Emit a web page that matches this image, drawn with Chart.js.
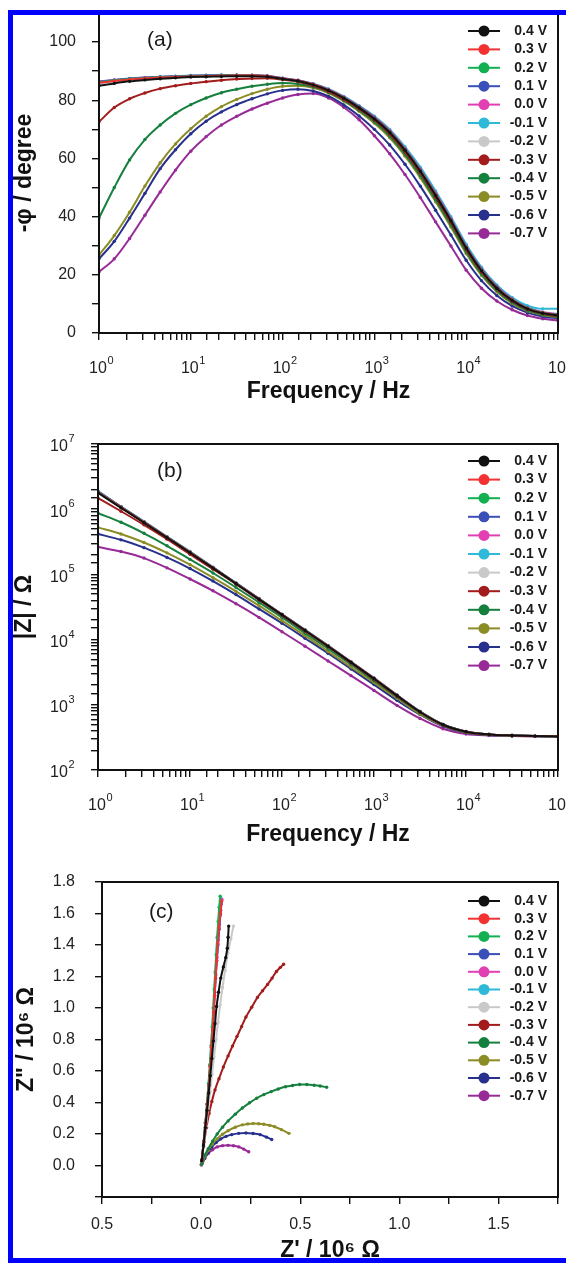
<!DOCTYPE html>
<html>
<head>
<meta charset="utf-8">
<script src="https://cdn.jsdelivr.net/npm/chart.js@4.4.1/dist/chart.umd.min.js"></script>
<style>
  html, body { margin: 0; padding: 0; background: #fff; }
  body { width: 566px; height: 1264px; position: relative; overflow: hidden; }
  canvas { position: absolute; left: 0; }
  #frame { position: absolute; left: 8px; top: 10px; width: 600px; height: 1253px;
           border: 5px solid #0000ff; box-sizing: border-box; z-index: 5; pointer-events: none; }
</style>
</head>
<body>
<div id="frame"></div>
<canvas id="chartA" style="top:0px" width="566" height="410"></canvas>
<canvas id="chartB" style="top:420px" width="566" height="430"></canvas>
<canvas id="chartC" style="top:860px" width="566" height="404"></canvas>
<script>
// Series labels and colours (same in all three panels)
const voltages = ['0.4 V', '0.3 V', '0.2 V', '0.1 V', '0.0 V', '-0.1 V', '-0.2 V', '-0.3 V', '-0.4 V', '-0.5 V', '-0.6 V', '-0.7 V'];
const colors = ['#111111', '#f23232', '#12b050', '#3a4fb8', '#e23fb2', '#2fb9d8', '#c9c9c9', '#a31c1c', '#15803e', '#8c8c26', '#27308c', '#972a97'];

// Exponents written on the log axes (10^n)
const decadeExp = ['0', '1', '2', '3', '4', '5', '6', '7'];

// (a) phase angle, Hz
const freqA = [1, 1.468, 2.154, 3.162, 4.642, 6.813, 10, 14.68, 21.54, 31.62, 46.42, 68.13,
  100, 146.8, 215.4, 316.2, 464.2, 681.3, 1000, 1468, 2154, 3162, 4642, 6813,
  10000, 14678, 21544, 31623, 46416, 68129, 100000];

// -phi / degree, one row per voltage
const phaseDeg = [
  [85.0, 85.8, 86.5, 87.0, 87.4, 87.7, 88.0, 88.1, 88.2, 88.3, 88.3, 88.1, 87.3, 86.6, 85.3, 83.4, 80.7, 77.4, 73.6, 68.9, 62.8, 55.6, 47.3, 38.6, 29.2, 21.4, 15.4, 11.2, 8.3, 6.8, 6.0],
  [86.0, 86.6, 87.1, 87.5, 87.8, 88.0, 88.2, 88.3, 88.4, 88.5, 88.5, 88.3, 87.4, 86.7, 85.4, 83.5, 80.8, 77.5, 73.7, 69.0, 62.9, 55.7, 47.5, 38.7, 29.3, 21.5, 15.5, 11.3, 8.4, 6.9, 6.1],
  [86.2, 86.8, 87.3, 87.6, 87.9, 88.1, 88.3, 88.4, 88.5, 88.5, 88.5, 88.3, 87.4, 86.7, 85.4, 83.5, 80.9, 77.6, 73.8, 69.1, 63.0, 55.8, 47.6, 38.8, 29.4, 21.6, 15.6, 11.4, 8.5, 6.9, 6.2],
  [86.3, 86.9, 87.4, 87.7, 88.0, 88.2, 88.4, 88.5, 88.6, 88.6, 88.5, 88.3, 87.5, 86.8, 85.5, 83.6, 81.0, 77.8, 74.0, 69.3, 63.2, 56.0, 47.8, 39.0, 29.6, 21.8, 15.8, 11.5, 8.6, 7.0, 6.3],
  [86.4, 87.0, 87.4, 87.8, 88.0, 88.2, 88.4, 88.5, 88.6, 88.6, 88.6, 88.4, 87.6, 86.9, 85.6, 83.7, 81.1, 77.9, 74.2, 69.5, 63.4, 56.3, 48.1, 39.3, 29.8, 22.0, 16.0, 11.7, 8.7, 7.1, 6.4],
  [86.5, 87.0, 87.5, 87.8, 88.1, 88.3, 88.5, 88.6, 88.7, 88.7, 88.6, 88.4, 87.6, 86.9, 85.7, 83.9, 81.3, 78.1, 74.5, 70.0, 64.0, 57.0, 48.8, 40.0, 30.5, 22.6, 16.5, 12.2, 9.4, 8.3, 8.3],
  [85.8, 86.5, 87.1, 87.5, 87.8, 88.0, 88.2, 88.3, 88.4, 88.4, 88.4, 88.2, 87.5, 86.8, 85.6, 83.8, 81.2, 78.0, 74.3, 69.7, 63.6, 56.5, 48.3, 39.5, 30.0, 22.2, 16.2, 11.9, 8.9, 7.3, 6.6],
  [72.6, 77.5, 80.5, 82.5, 84.0, 85.0, 85.8, 86.4, 86.9, 87.3, 87.5, 87.6, 87.1, 86.4, 85.0, 83.0, 80.3, 77.0, 73.2, 68.4, 62.2, 55.0, 46.7, 38.0, 28.7, 21.0, 15.1, 10.9, 8.1, 6.6, 5.8],
  [39.5, 50.0, 59.5, 66.5, 71.5, 75.5, 78.5, 80.8, 82.6, 83.8, 84.8, 85.5, 85.9, 85.6, 84.6, 82.8, 80.0, 76.6, 72.6, 67.7, 61.4, 54.1, 45.8, 37.1, 27.9, 20.3, 14.6, 10.5, 7.8, 6.4, 5.6],
  [26.8, 33.5, 41.5, 50.5, 58.5, 65.0, 70.2, 74.5, 77.8, 80.3, 82.3, 83.8, 84.8, 85.0, 84.3, 82.5, 79.7, 76.2, 72.1, 67.1, 60.8, 53.4, 45.1, 36.4, 27.3, 19.8, 14.2, 10.2, 7.6, 6.2, 5.4],
  [25.5, 31.5, 39.5, 48.0, 56.5, 63.0, 68.5, 72.8, 76.0, 78.5, 80.5, 82.2, 83.4, 83.8, 83.2, 81.4, 78.4, 74.6, 70.0, 64.6, 58.0, 50.5, 42.2, 33.7, 25.0, 18.0, 12.9, 9.3, 7.0, 5.7, 5.0],
  [21.0, 25.5, 32.5, 40.5, 48.5, 56.0, 62.5, 67.5, 71.5, 74.5, 77.0, 79.0, 80.8, 82.0, 82.3, 80.8, 77.6, 73.3, 67.8, 61.6, 54.5, 46.6, 38.2, 29.9, 21.6, 15.4, 11.0, 8.0, 6.0, 4.9, 4.3]
];

// (b) impedance modulus, Hz
const freqB = [1, 1.778, 3.162, 5.623, 10, 17.78, 31.62, 56.23, 100, 177.8, 316.2, 562.3,
  1000, 1778, 3162, 5623, 10000, 17783, 31623, 56234, 100000];

// |Z| / ohm, one row per voltage
const modulus = [
  [1.78e6, 1.05e6, 6.2e5, 3.65e5, 2.15e5, 1.25e5, 7.2e4, 4.15e4, 2.4e4, 1.38e4, 7.9e3, 4.47e3, 2.51e3, 1.38e3, 776, 495, 386, 350, 338, 331, 327],
  [1.82e6, 1.07e6, 6.3e5, 3.7e5, 2.18e5, 1.26e5, 7.25e4, 4.18e4, 2.41e4, 1.39e4, 7.95e3, 4.5e3, 2.53e3, 1.39e3, 780, 497, 387, 350, 338, 331, 327],
  [1.84e6, 1.08e6, 6.35e5, 3.72e5, 2.19e5, 1.27e5, 7.3e4, 4.2e4, 2.42e4, 1.4e4, 8.0e3, 4.52e3, 2.54e3, 1.4e3, 785, 498, 388, 351, 339, 331, 327],
  [1.86e6, 1.09e6, 6.4e5, 3.74e5, 2.2e5, 1.27e5, 7.33e4, 4.22e4, 2.43e4, 1.4e4, 8.05e3, 4.54e3, 2.55e3, 1.4e3, 788, 499, 388, 351, 339, 331, 327],
  [1.87e6, 1.09e6, 6.42e5, 3.76e5, 2.21e5, 1.28e5, 7.36e4, 4.24e4, 2.44e4, 1.41e4, 8.08e3, 4.56e3, 2.56e3, 1.41e3, 790, 500, 389, 351, 339, 331, 327],
  [1.9e6, 1.1e6, 6.5e5, 3.8e5, 2.24e5, 1.29e5, 7.4e4, 4.27e4, 2.45e4, 1.41e4, 8.1e3, 4.57e3, 2.57e3, 1.41e3, 794, 501, 389, 351, 339, 331, 327],
  [1.88e6, 1.09e6, 6.4e5, 3.75e5, 2.2e5, 1.27e5, 7.3e4, 4.2e4, 2.42e4, 1.39e4, 8.0e3, 4.5e3, 2.54e3, 1.4e3, 789, 500, 389, 351, 339, 331, 327],
  [1.48e6, 9.3e5, 5.75e5, 3.47e5, 2.04e5, 1.2e5, 7.08e4, 4.07e4, 2.34e4, 1.35e4, 7.76e3, 4.37e3, 2.45e3, 1.35e3, 776, 490, 385, 351, 339, 331, 327],
  [8.7e5, 6.3e5, 4.27e5, 2.75e5, 1.7e5, 1.05e5, 6.3e4, 3.72e4, 2.19e4, 1.26e4, 7.24e3, 4.17e3, 2.34e3, 1.32e3, 759, 490, 380, 347, 335, 331, 327],
  [5.25e5, 4.17e5, 3.09e5, 2.14e5, 1.41e5, 8.9e4, 5.5e4, 3.31e4, 1.95e4, 1.15e4, 6.6e3, 3.8e3, 2.19e3, 1.26e3, 724, 479, 376, 347, 335, 331, 327],
  [4.17e5, 3.39e5, 2.57e5, 1.82e5, 1.23e5, 7.9e4, 4.9e4, 2.95e4, 1.78e4, 1.05e4, 6.17e3, 3.55e3, 2.04e3, 1.17e3, 708, 468, 372, 343, 335, 331, 327],
  [2.63e5, 2.24e5, 1.78e5, 1.26e5, 8.5e4, 5.6e4, 3.55e4, 2.19e4, 1.32e4, 7.9e3, 4.7e3, 2.8e3, 1.66e3, 980, 617, 430, 357, 338, 331, 327, 324]
];

// (c) Nyquist plot, Z' and Z'' in 10^6 ohm, one row per voltage
const zReal = [
  [0.003, 0.012, 0.021, 0.030, 0.038, 0.046, 0.054, 0.062, 0.070, 0.078, 0.088, 0.099, 0.112, 0.124, 0.132, 0.136, 0.139],
  [0.003, 0.013, 0.022, 0.031, 0.039, 0.046, 0.052, 0.058, 0.063, 0.068, 0.073, 0.078, 0.084, 0.090, 0.097, 0.104],
  [0.003, 0.012, 0.021, 0.029, 0.037, 0.044, 0.050, 0.056, 0.061, 0.066, 0.071, 0.076, 0.081, 0.086, 0.091, 0.096],
  [0.003, 0.013, 0.022, 0.031, 0.039, 0.046, 0.052, 0.058, 0.063, 0.068, 0.073, 0.079, 0.085, 0.091, 0.097, 0.101],
  [0.003, 0.013, 0.022, 0.031, 0.039, 0.046, 0.052, 0.058, 0.064, 0.069, 0.074, 0.080, 0.086, 0.092, 0.099, 0.105],
  [0.003, 0.013, 0.022, 0.030, 0.038, 0.045, 0.051, 0.057, 0.062, 0.067, 0.072, 0.077, 0.082, 0.088, 0.094, 0.099],
  [0.003, 0.014, 0.025, 0.035, 0.045, 0.055, 0.065, 0.075, 0.085, 0.096, 0.108, 0.121, 0.135, 0.150, 0.163],
  [0.004, 0.012, 0.027, 0.040, 0.054, 0.070, 0.090, 0.112, 0.136, 0.158, 0.181, 0.204, 0.226, 0.255, 0.284, 0.310, 0.335, 0.358, 0.380, 0.400, 0.416],
  [0.002, 0.005, 0.018, 0.036, 0.058, 0.081, 0.108, 0.136, 0.172, 0.208, 0.244, 0.280, 0.316, 0.353, 0.389, 0.425, 0.461, 0.497, 0.533, 0.570, 0.600, 0.633],
  [0.002, 0.009, 0.020, 0.036, 0.056, 0.081, 0.108, 0.136, 0.172, 0.208, 0.235, 0.262, 0.290, 0.316, 0.345, 0.371, 0.405, 0.443],
  [0.002, 0.018, 0.035, 0.054, 0.076, 0.099, 0.126, 0.154, 0.190, 0.226, 0.262, 0.298, 0.330, 0.356],
  [0.001, 0.005, 0.018, 0.036, 0.058, 0.081, 0.108, 0.136, 0.163, 0.190, 0.215, 0.240]
];
const zImag = [
  [0.03, 0.13, 0.24, 0.35, 0.46, 0.57, 0.68, 0.79, 0.90, 1.01, 1.10, 1.19, 1.26, 1.32, 1.38, 1.45, 1.52],
  [0.03, 0.15, 0.27, 0.39, 0.51, 0.63, 0.75, 0.86, 0.97, 1.08, 1.19, 1.30, 1.41, 1.51, 1.60, 1.68],
  [0.03, 0.15, 0.27, 0.39, 0.52, 0.64, 0.76, 0.88, 1.00, 1.12, 1.23, 1.34, 1.45, 1.55, 1.64, 1.71],
  [0.03, 0.15, 0.27, 0.39, 0.51, 0.63, 0.74, 0.86, 0.97, 1.08, 1.19, 1.30, 1.40, 1.50, 1.59, 1.66],
  [0.03, 0.15, 0.27, 0.39, 0.51, 0.63, 0.75, 0.87, 0.98, 1.10, 1.21, 1.32, 1.43, 1.53, 1.62, 1.69],
  [0.03, 0.15, 0.27, 0.39, 0.52, 0.64, 0.76, 0.88, 1.00, 1.11, 1.22, 1.33, 1.44, 1.54, 1.63, 1.70],
  [0.03, 0.14, 0.25, 0.36, 0.47, 0.58, 0.69, 0.80, 0.91, 1.02, 1.13, 1.24, 1.35, 1.44, 1.52],
  [0.04, 0.12, 0.242, 0.33, 0.407, 0.48, 0.551, 0.625, 0.696, 0.758, 0.82, 0.882, 0.943, 1.005, 1.067, 1.11, 1.15, 1.19, 1.232, 1.258, 1.278],
  [0.01, 0.025, 0.065, 0.107, 0.155, 0.200, 0.243, 0.283, 0.326, 0.365, 0.398, 0.427, 0.450, 0.469, 0.486, 0.500, 0.508, 0.514, 0.514, 0.510, 0.505, 0.497],
  [0.008, 0.025, 0.060, 0.097, 0.135, 0.169, 0.198, 0.221, 0.243, 0.258, 0.264, 0.266, 0.265, 0.262, 0.255, 0.246, 0.228, 0.204],
  [0.008, 0.045, 0.082, 0.118, 0.146, 0.169, 0.185, 0.196, 0.204, 0.206, 0.203, 0.196, 0.180, 0.165],
  [0.003, 0.014, 0.048, 0.076, 0.100, 0.118, 0.126, 0.128, 0.125, 0.118, 0.104, 0.087]
];

const FONT = "'Liberation Sans', Arial, Helvetica, sans-serif";
Chart.defaults.font.family = FONT;
Chart.defaults.color = '#222';

function makeSets(xs, yRows, smooth) {
  const perRow = Array.isArray(xs[0]);
  return yRows.map((row, i) => ({
    label: voltages[i],
    data: row.map((v, j) => ({ x: perRow ? xs[i][j] : xs[j], y: v })),
    showLine: true,
    borderColor: colors[i],
    backgroundColor: colors[i],
    borderWidth: 2,
    pointRadius: 1.7,
    pointBorderWidth: 0,
    pointHoverRadius: 0,
    cubicInterpolationMode: smooth ? 'monotone' : 'default',
    tension: smooth ? 0 : 0.25
  }));
}

// fixes the axis box so the plot area lands where the original has it
function fixBox(size, horizontal) {
  return function (scale) {
    if (horizontal) scale.height = size; else scale.width = size;
    scale.paddingLeft = 0; scale.paddingRight = 0;
    scale.paddingTop = 0; scale.paddingBottom = 0;
  };
}

function isDecade(v) {
  const e = Math.log10(v);
  return Math.abs(e - Math.round(e)) < 1e-6;
}

const tickGrid = { drawOnChartArea: false, drawTicks: true, tickLength: 7, color: '#111', lineWidth: 1.4 };
const axisBorder = { display: true, color: '#111', width: 2 };
const titleFont = { size: 23, weight: 'bold', family: FONT };
const tickFont = { size: 16, family: FONT };

function freqAxis(height, titlePad) {
  return {
    type: 'logarithmic', min: 1, max: 100000,
    border: axisBorder, grid: tickGrid,
    afterFit: fixBox(height, true),
    ticks: { autoSkip: false, maxRotation: 0, font: tickFont, callback: () => '' },
    title: { display: true, text: 'Frequency / Hz', font: titleFont, color: '#111', padding: { top: 0, bottom: titlePad } }
  };
}

// "10" with a raised exponent under every decade tick of the log axes
const decadeLabels = {
  id: 'decadeLabels',
  afterDraw(chart, args, opts) {
    const ctx = chart.ctx;
    ctx.save();
    ctx.fillStyle = '#222';
    ctx.textAlign = 'left';
    ctx.textBaseline = 'middle';
    opts.axes.forEach((id) => {
      const scale = chart.scales[id];
      scale.ticks.forEach((t) => {
        if (!isDecade(t.value)) return;
        const ex = decadeExp[Math.round(Math.log10(t.value))];
        const p = scale.getPixelForValue(t.value);
        ctx.font = '16px ' + FONT;
        const w1 = ctx.measureText('10').width;
        ctx.font = '11px ' + FONT;
        const w2 = ctx.measureText(ex).width;
        let x, y;
        if (scale.isHorizontal()) {
          x = p - w1 / 2 - 1;
          y = scale.top + 36;
        } else {
          x = scale.right - 24 - w1 - w2;
          y = p + 3;
        }
        ctx.font = '16px ' + FONT;
        ctx.fillText('10', x, y);
        ctx.font = '11px ' + FONT;
        ctx.fillText(ex, x + w1 + 0.5, y - 8);
      });
    });
    ctx.restore();
  }
};

// square frame round the plot area
const boxFrame = {
  id: 'boxFrame',
  afterDraw(chart) {
    const { left, right, top, bottom } = chart.chartArea;
    const ctx = chart.ctx;
    ctx.save();
    ctx.strokeStyle = '#111';
    ctx.lineWidth = 2;
    ctx.strokeRect(left, top, right - left, bottom - top);
    ctx.restore();
  }
};

// legend stacked inside the plot, top right
const sideLegend = {
  id: 'sideLegend',
  afterDraw(chart, args, opts) {
    const ctx = chart.ctx;
    const top = chart.chartArea.top;
    ctx.save();
    ctx.font = 'bold 14px ' + FONT;
    ctx.textAlign = 'right';
    ctx.textBaseline = 'middle';
    chart.data.datasets.forEach((ds, i) => {
      const y = top + opts.first + i * opts.step;
      ctx.strokeStyle = ds.borderColor;
      ctx.lineWidth = 2;
      ctx.beginPath(); ctx.moveTo(468, y); ctx.lineTo(500, y); ctx.stroke();
      ctx.fillStyle = ds.borderColor;
      ctx.beginPath(); ctx.arc(484, y, 5.5, 0, Math.PI * 2); ctx.fill();
      ctx.fillStyle = '#1a1a1a';
      ctx.fillText(ds.label, 547, y);
    });
    ctx.restore();
  }
};

// panel letter
const panelTag = {
  id: 'panelTag',
  afterDraw(chart, args, opts) {
    const ctx = chart.ctx;
    ctx.save();
    ctx.font = '21px ' + FONT;
    ctx.fillStyle = '#1a1a1a';
    ctx.textBaseline = 'middle';
    ctx.fillText(opts.text, opts.x, opts.y);
    ctx.restore();
  }
};

function baseOptions(padTop, tag, legendFirst, legendStep, logAxes) {
  return {
    responsive: false,
    animation: false,
    events: [],
    layout: { padding: { top: padTop, right: 8, left: 0, bottom: 0 } },
    plugins: {
      legend: { display: false },
      tooltip: { enabled: false },
      sideLegend: { first: legendFirst, step: legendStep },
      panelTag: tag,
      decadeLabels: { axes: logAxes }
    }
  };
}

// (a) phase
const optsA = baseOptions(13, { text: '(a)', x: 147, y: 40 }, 18, 18.4, ['x']);
optsA.scales = {
  x: freqAxis(77, 5),
  y: {
    type: 'linear', min: 0, max: 110,
    border: axisBorder, grid: tickGrid,
    afterFit: fixBox(99, false),
    ticks: { stepSize: 10, padding: 16, font: tickFont, color: '#222',
      callback: (v) => (v % 20 === 0 && v <= 100) ? String(v) : '' },
    title: { display: true, text: '-φ / degree', font: titleFont, color: '#111', padding: { top: 11, bottom: 0 } }
  }
};
new Chart(document.getElementById('chartA'), {
  type: 'scatter',
  data: { datasets: makeSets(freqA, phaseDeg, true) },
  options: optsA,
  plugins: [boxFrame, sideLegend, panelTag, decadeLabels]
});

// (b) modulus
const optsB = baseOptions(24, { text: '(b)', x: 157, y: 51 }, 17, 18.6, ['x', 'y']);
optsB.scales = {
  x: freqAxis(80, 2),
  y: {
    type: 'logarithmic', min: 100, max: 10000000,
    border: axisBorder, grid: tickGrid,
    afterFit: fixBox(98, false),
    ticks: { autoSkip: false, font: tickFont, callback: () => '' },
    title: { display: true, text: '|Z| / Ω', font: titleFont, color: '#111', padding: { top: 11, bottom: 0 } }
  }
};
new Chart(document.getElementById('chartB'), {
  type: 'scatter',
  data: { datasets: makeSets(freqB, modulus, true) },
  options: optsB,
  plugins: [boxFrame, sideLegend, panelTag, decadeLabels]
});

// (c) Nyquist
const optsC = baseOptions(22, { text: '(c)', x: 149, y: 52 }, 19, 17.7, []);
optsC.scales = {
  x: {
    type: 'linear', min: -0.5, max: 1.8,
    border: axisBorder, grid: tickGrid,
    afterFit: fixBox(67, true),
    ticks: { stepSize: 0.25, autoSkip: false, maxRotation: 0, padding: 11, font: tickFont, color: '#222',
      callback: (v) => Math.abs(v * 2 - Math.round(v * 2)) < 1e-6 ? Math.abs(v).toFixed(1) : '' },
    title: { display: true, text: "Z' / 10⁶ Ω", font: titleFont, color: '#111', padding: { top: 0, bottom: 0 } }
  },
  y: {
    type: 'linear', min: -0.2, max: 1.8,
    border: axisBorder, grid: tickGrid,
    afterFit: fixBox(102, false),
    ticks: { stepSize: 0.1, padding: 20, font: tickFont, color: '#222',
      callback: (v) => {
        const k = Math.round(v * 10);
        if (k < 0 || k % 2 !== 0) return '';
        return (k / 10).toFixed(1);
      } },
    title: { display: true, text: 'Z" / 10⁶ Ω', font: titleFont, color: '#111', padding: { top: 13, bottom: 0 } }
  }
};
new Chart(document.getElementById('chartC'), {
  type: 'scatter',
  data: { datasets: makeSets(zReal, zImag, false) },
  options: optsC,
  plugins: [boxFrame, sideLegend, panelTag]
});
</script>
</body>
</html>
